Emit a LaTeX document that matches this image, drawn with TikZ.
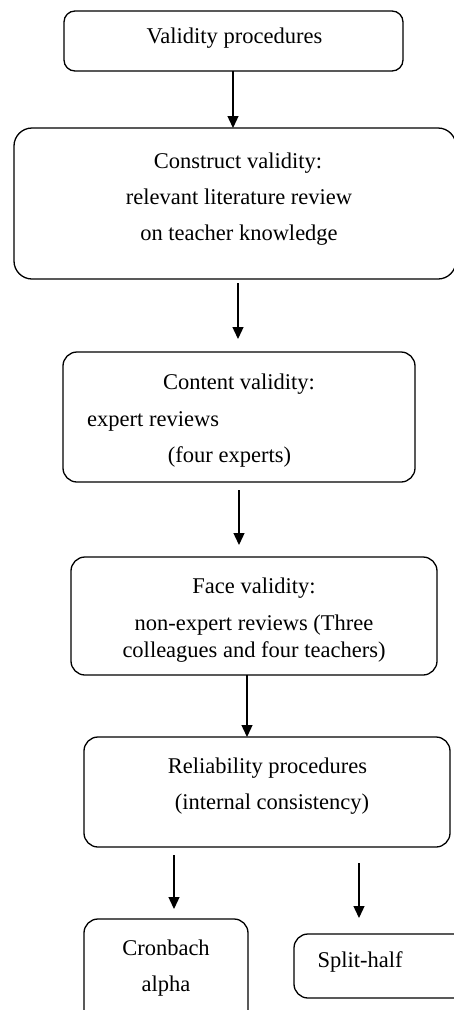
\documentclass[tikz,border=0pt]{standalone}
\usepackage{fontspec}
\setmainfont{Liberation Serif}
\usetikzlibrary{arrows.meta}
\begin{document}
\begin{tikzpicture}[x=1pt,y=-1pt,
  boxst/.style={draw=black,line width=1.3pt,rounded corners=14pt,inner sep=0pt},
  txt/.style={inner sep=0pt,anchor=base,font=\fontsize{22.5}{27}\selectfont},
  txtl/.style={inner sep=0pt,anchor=base west,font=\fontsize{22.5}{27}\selectfont},
  arr/.style={line width=1.3pt,-{Triangle[width=11pt,length=12pt]}}]
\useasboundingbox (0,0) rectangle (454,1010);
\clip (0,0) rectangle (454,1010);
% boxes
\draw[boxst,rounded corners=11pt] (64,11) rectangle (403,71);
\coordinate (b1s) at (233,71);
\draw[boxst,rounded corners=18pt] (14,128) rectangle (456,279);
\coordinate (b2n) at (233,128);
\draw[boxst] (63,352) rectangle (415,482);
\draw[boxst] (71,557) rectangle (437,675);
\draw[boxst] (84,737) rectangle (450,847);
\draw[boxst] (84,919) rectangle (248,1025);
\draw[boxst] (294,934) rectangle (475,998);
% texts
\node[txt] (t1) at (234.5,43) {Validity procedures};
\node[txt] (t2a) at (238,168) {Construct validity:};
\node[txt] (t2b) at (239,204) {relevant literature review};
\node[txt] (t2c) at (239,240) {on teacher knowledge};
\node[txt] (t3a) at (239,389) {Content validity:};
\node[txtl] (t3b) at (87,426) {expert reviews};
\node[txt] (t3c) at (229.5,462) {(four experts)};
\node[txt] (t4a) at (254,593) {Face validity:};
\node[txt] (t4b) at (254,630) {non-expert reviews (Three};
\node[txt] (t4c) at (254,657) {colleagues and four teachers)};
\node[txt] (t5a) at (267.5,773) {Reliability procedures};
\node[txt] (t5b) at (272,809) {(internal consistency)};
\node[txt] (t6a) at (166,955) {Cronbach};
\node[txt] (t6b) at (166,991) {alpha};
\node[txt] (t7) at (360,967) {Split-half};
% arrows
\draw[arr] (b1s) -- (b2n);
\coordinate (a2s) at (238,283); \coordinate (a2e) at (238,339);
\draw[arr] (a2s) -- (a2e);
\coordinate (a3s) at (239,490); \coordinate (a3e) at (239,545);
\draw[arr] (a3s) -- (a3e);
\coordinate (a4s) at (247,675); \coordinate (a4e) at (247,737);
\draw[arr] (a4s) -- (a4e);
\coordinate (a5s) at (174,855); \coordinate (a5e) at (174,909);
\draw[arr] (a5s) -- (a5e);
\coordinate (a6s) at (359,863); \coordinate (a6e) at (359,918);
\draw[arr] (a6s) -- (a6e);
\end{tikzpicture}
\end{document}
